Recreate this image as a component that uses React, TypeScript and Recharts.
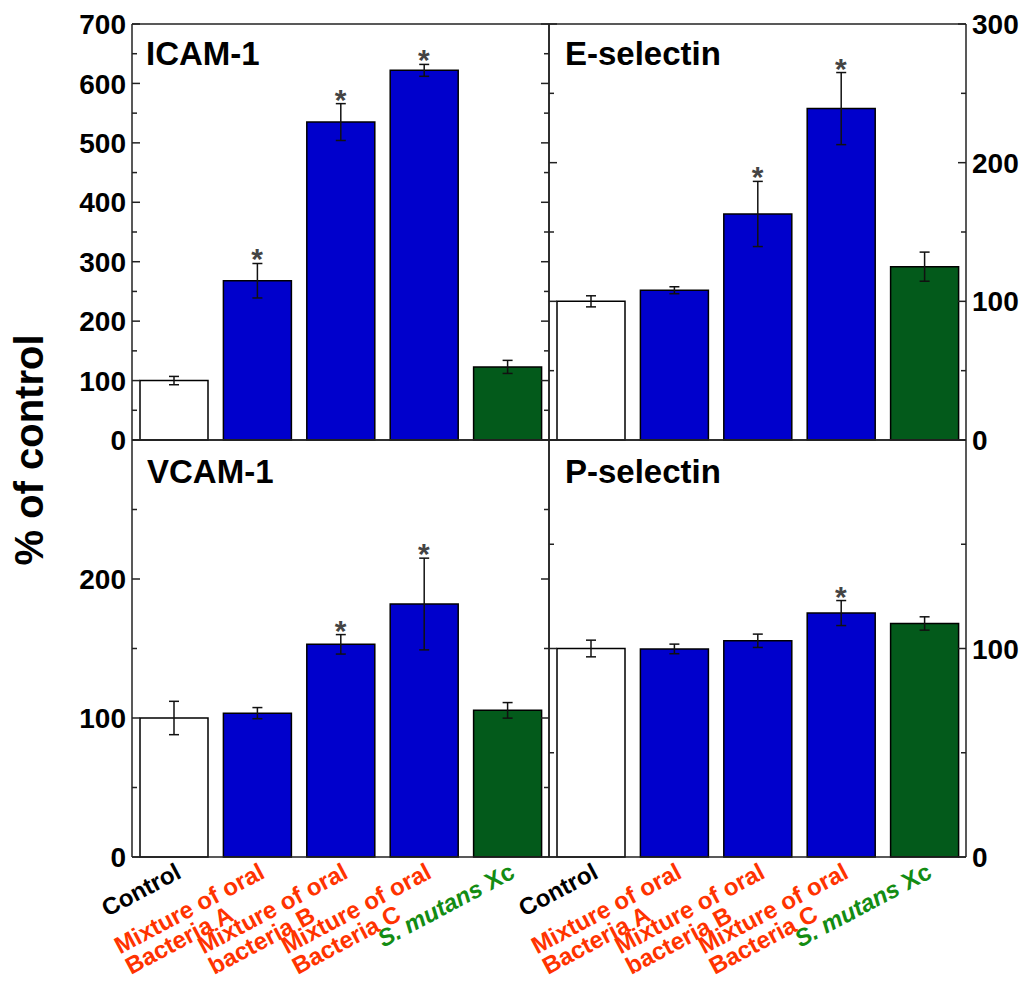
import React from 'react';
import { ComposedChart, Bar, Cell, ErrorBar, Line, XAxis, YAxis } from 'recharts';

// ---------- data ----------
const categories = [
  'Control',
  'Mixture of oral Bacteria A',
  'Mixture of oral bacteria B',
  'Mixture of oral Bacteria C',
  'S. mutans Xc',
];
const categoryLines: string[][] = [
  ['Control'],
  ['Mixture of oral', 'Bacteria A'],
  ['Mixture of oral', 'bacteria B'],
  ['Mixture of oral', 'Bacteria C'],
  ['S. mutans Xc'],
];
const barFills = ['#ffffff', '#0000cc', '#0000cc', '#0000cc', '#035a1b'];
const labelColors = ['#000000', '#ff3300', '#ff3300', '#ff3300', '#138c13'];

const icamValues = [100, 268, 535, 622, 123];
const icamErrors = [7, 29, 31, 10, 11];
const icamSignificant = [false, true, true, true, false];
const icamTicks = [0, 50, 100, 150, 200, 250, 300, 350, 400, 450, 500, 550, 600, 650, 700];
const icamTickLabels = [0, 100, 200, 300, 400, 500, 600, 700];

const eselValues = [100, 108, 163, 239, 125];
const eselErrors = [4, 2.5, 23.5, 26, 10.5];
const eselSignificant = [false, false, true, true, false];
const eselTicks = [0, 50, 100, 150, 200, 250, 300];
const eselTickLabels = [0, 100, 200, 300];

const vcamValues = [100, 103.5, 153, 182, 105.5];
const vcamErrors = [12, 4, 7, 33, 5.6];
const vcamSignificant = [false, false, true, true, false];
const vcamTicks = [0, 50, 100, 150, 200, 250, 300];
const vcamTickLabels = [0, 100, 200];

const pselValues = [100, 99.8, 103.7, 117, 112];
const pselErrors = [4, 2.3, 3.2, 6, 3.2];
const pselSignificant = [false, false, false, true, false];
const pselTicks = [0, 50, 100, 150, 200];
const pselTickLabels = [0, 100];

// ---------- helpers ----------
const FONT = '"Liberation Sans", Arial, Helvetica, sans-serif';
const AXIS_COLOR = '#222';
const LABEL_ANGLE = 28;

const buildData = (values: number[], errors: number[], sig: boolean[]) =>
  categories.map((name, i) => ({
    name,
    value: values[i],
    err: errors[i],
    star: sig[i] ? values[i] + errors[i] : null,
  }));

let measureCtx: CanvasRenderingContext2D | null = null;
const measure = (text: string, font: string) => {
  if (typeof document !== 'undefined') {
    if (!measureCtx) measureCtx = document.createElement('canvas').getContext('2d');
    if (measureCtx) {
      measureCtx.font = font;
      return measureCtx.measureText(text).width;
    }
  }
  return text.length * 13;
};

const makeYTick = (side: 'left' | 'right', labeled: number[] | null) => (props: any) => {
  const { x, y, payload } = props;
  const v = payload.value;
  const major = v % 100 === 0;
  const len = major ? 8 : 5;
  const dir = side === 'left' ? 1 : -1;
  return (
    <g>
      <line x1={x} x2={x + dir * len} y1={y} y2={y} stroke={AXIS_COLOR} strokeWidth={1.5} />
      {labeled && labeled.includes(v) ? (
        <text
          x={x - dir * 6}
          y={y}
          dy="0.36em"
          textAnchor={side === 'left' ? 'end' : 'start'}
          fontFamily={FONT}
          fontWeight="bold"
          fontSize={28}
          fill="#000"
        >
          {v}
        </text>
      ) : null}
    </g>
  );
};

const LABEL_FONT_SIZE = 24;
const XTick = (props: any) => {
  const { x, y, payload } = props;
  const idx = categories.indexOf(payload.value);
  const lines = categoryLines[idx] || [String(payload.value)];
  const color = labelColors[idx] || '#000';
  const ax = x + 9;
  const ay = y + 20;
  const common = {
    fontFamily: FONT,
    fontWeight: 'bold' as const,
    fontSize: LABEL_FONT_SIZE,
    fill: color,
  };
  const tr = `translate(${ax},${ay}) rotate(-${LABEL_ANGLE})`;
  if (lines.length === 1) {
    const t = lines[0];
    const italicMatch = t.startsWith('S. mutans');
    return (
      <g transform={tr}>
        <text x={0} y={0} textAnchor="end" {...common}>
          {italicMatch ? (
            <>
              <tspan fontStyle="italic">S. mutans</tspan>
              <tspan> Xc</tspan>
            </>
          ) : (
            t
          )}
        </text>
      </g>
    );
  }
  const w1 = measure(lines[0], `bold ${LABEL_FONT_SIZE}px ${FONT}`);
  return (
    <g transform={tr}>
      <text x={-w1} y={0} textAnchor="start" {...common}>
        {lines[0]}
      </text>
      <text x={-w1} y={23} textAnchor="start" {...common}>
        {lines[1]}
      </text>
    </g>
  );
};

const renderStar = (p: any) => {
  const key = `star-${p.index}`;
  if (p.cy == null || p.payload == null || p.payload.star == null) return <g key={key} />;
  return (
    <text
      key={key}
      x={p.cx}
      y={p.cy + 6}
      textAnchor="middle"
      fontFamily={FONT}
      fontWeight="bold"
      fontSize={30}
      fill="#444"
    >
      *
    </text>
  );
};

type PanelProps = {
  left: number;
  top: number;
  width: number;
  height: number;
  marginTop: number;
  leftAxisWidth: number;
  rightAxisWidth: number;
  labelSide: 'left' | 'right';
  values: number[];
  errors: number[];
  significant: boolean[];
  ticks: number[];
  tickLabels: number[];
  showCategories: boolean;
};

const Panel = (p: PanelProps) => {
  const data = buildData(p.values, p.errors, p.significant);
  const domainMax = p.ticks[p.ticks.length - 1];
  return (
    <div style={{ position: 'absolute', left: p.left, top: p.top }}>
      <ComposedChart
        width={p.width}
        height={p.height}
        data={data}
        margin={{ top: p.marginTop, right: 0, bottom: 0, left: 0 }}
      >
        <XAxis
          dataKey="name"
          height={p.showCategories ? 124 : 1}
          interval={0}
          tickSize={0}
          tickMargin={0}
          tickLine={false}
          axisLine={{ stroke: AXIS_COLOR, strokeWidth: 1.5 }}
          tick={p.showCategories ? <XTick /> : false}
        />
        <XAxis
          xAxisId="top"
          orientation="top"
          dataKey="name"
          height={1}
          tick={false}
          tickLine={false}
          axisLine={{ stroke: AXIS_COLOR, strokeWidth: 1.5 }}
        />
        <YAxis
          yAxisId="l"
          orientation="left"
          width={p.leftAxisWidth}
          domain={[0, domainMax]}
          ticks={p.ticks}
          interval={0}
          tickSize={0}
          tickMargin={0}
          tickLine={false}
          axisLine={{ stroke: AXIS_COLOR, strokeWidth: 1.5 }}
          tick={makeYTick('left', p.labelSide === 'left' ? p.tickLabels : null)}
        />
        <YAxis
          yAxisId="r"
          orientation="right"
          width={p.rightAxisWidth}
          domain={[0, domainMax]}
          ticks={p.ticks}
          interval={0}
          tickSize={0}
          tickMargin={0}
          tickLine={false}
          axisLine={{ stroke: AXIS_COLOR, strokeWidth: 1.5 }}
          tick={makeYTick('right', p.labelSide === 'right' ? p.tickLabels : null)}
        />
        <Bar yAxisId="l" dataKey="value" barSize={68} stroke="#000" strokeWidth={1.5} isAnimationActive={false}>
          {data.map((_, i) => (
            <Cell key={i} fill={barFills[i]} />
          ))}
          <ErrorBar dataKey="err" width={5} stroke="#111" strokeWidth={1.5} direction="y" />
        </Bar>
        <Line
          yAxisId="r"
          xAxisId="top"
          dataKey="value"
          stroke="none"
          dot={false}
          activeDot={false}
          isAnimationActive={false}
          legendType="none"
        />
        <Line
          yAxisId="l"
          dataKey="star"
          stroke="none"
          dot={renderStar}
          activeDot={false}
          isAnimationActive={false}
          legendType="none"
        />
      </ComposedChart>
    </div>
  );
};

const titleStyle = {
  fontFamily: FONT,
  fontWeight: 'bold' as const,
  fontSize: 33,
  fill: '#000',
};

export default function App() {
  return (
    <div style={{ position: 'absolute', left: 0, top: 0, width: 1025, height: 981, background: '#fff' }}>
      <style>{`.recharts-surface{overflow:visible}`}</style>
      <Panel
        left={0}
        top={0}
        width={550}
        height={441}
        marginTop={23}
        leftAxisWidth={132}
        rightAxisWidth={1}
        labelSide="left"
        values={icamValues}
        errors={icamErrors}
        significant={icamSignificant}
        ticks={icamTicks}
        tickLabels={icamTickLabels}
        showCategories={false}
      />
      <Panel
        left={548}
        top={0}
        width={477}
        height={441}
        marginTop={23}
        leftAxisWidth={1}
        rightAxisWidth={59}
        labelSide="right"
        values={eselValues}
        errors={eselErrors}
        significant={eselSignificant}
        ticks={eselTicks}
        tickLabels={eselTickLabels}
        showCategories={false}
      />
      <Panel
        left={0}
        top={439}
        width={550}
        height={542}
        marginTop={0}
        leftAxisWidth={132}
        rightAxisWidth={1}
        labelSide="left"
        values={vcamValues}
        errors={vcamErrors}
        significant={vcamSignificant}
        ticks={vcamTicks}
        tickLabels={vcamTickLabels}
        showCategories={true}
      />
      <Panel
        left={548}
        top={439}
        width={477}
        height={542}
        marginTop={0}
        leftAxisWidth={1}
        rightAxisWidth={59}
        labelSide="right"
        values={pselValues}
        errors={pselErrors}
        significant={pselSignificant}
        ticks={pselTicks}
        tickLabels={pselTickLabels}
        showCategories={true}
      />
      <svg
        width={1025}
        height={981}
        style={{ position: 'absolute', left: 0, top: 0, pointerEvents: 'none' }}
      >
        <text x={146} y={65} {...titleStyle}>ICAM-1</text>
        <text x={565} y={65} {...titleStyle}>E-selectin</text>
        <text x={147} y={483} {...titleStyle}>VCAM-1</text>
        <text x={565} y={483} {...titleStyle}>P-selectin</text>
        <text
          transform="translate(43,450) rotate(-90)"
          textAnchor="middle"
          fontFamily={FONT}
          fontWeight="bold"
          fontSize={40}
          fill="#000"
        >
          % of control
        </text>
      </svg>
    </div>
  );
}
